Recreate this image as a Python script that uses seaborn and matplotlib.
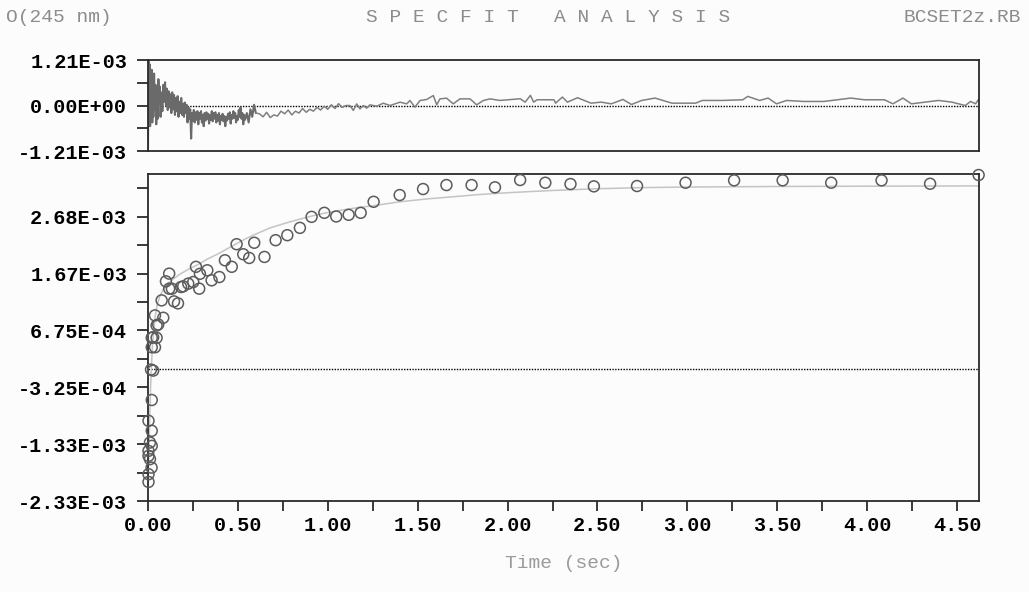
import numpy as np
import matplotlib
matplotlib.use('Agg')
import matplotlib.pyplot as plt
import seaborn as sns

# observed points (time in s, absorbance in units of 1e-3)
obs_time = [0.003, 0.003, 0.003, 0.003, 0.003, 0.011, 0.011, 0.017, 0.020, 0.021,
            0.021, 0.021, 0.021, 0.021, 0.029, 0.029, 0.039, 0.039, 0.048, 0.048,
            0.057, 0.076, 0.085, 0.100, 0.118, 0.118, 0.133, 0.145, 0.167, 0.184,
            0.196, 0.224, 0.252, 0.267, 0.285, 0.289, 0.330, 0.354, 0.397, 0.428,
            0.466, 0.493, 0.530, 0.563, 0.591, 0.648, 0.710, 0.775, 0.845, 0.910,
            0.981, 1.047, 1.116, 1.183, 1.255, 1.40, 1.53, 1.66, 1.80, 1.93,
            2.07, 2.21, 2.35, 2.48, 2.72, 2.99, 3.26, 3.53, 3.80, 4.08,
            4.35, 4.62]
obs_abs = [-1.994, -1.858, -1.535, -1.447, -0.917, -1.593, -1.300, -0.015, -1.742, -1.358,
           -1.093, -0.551, 0.378, 0.545, -0.033, 0.555, 0.378, 0.939, 0.545, 0.762,
           0.780, 1.204, 0.898, 1.539, 1.410, 1.675, 1.410, 1.186, 1.151, 1.439,
           1.451, 1.499, 1.527, 1.795, 1.410, 1.672, 1.734, 1.557, 1.615, 1.910,
           1.795, 2.193, 2.016, 1.951, 2.219, 1.969, 2.264, 2.352, 2.481, 2.675,
           2.746, 2.682, 2.711, 2.746, 2.940, 3.059, 3.165, 3.235, 3.235, 3.195,
           3.324, 3.276, 3.253, 3.212, 3.218, 3.276, 3.318, 3.318, 3.276, 3.318,
           3.258, 3.412]

# fitted curve
fit_time = [0.000, 0.004, 0.008, 0.012, 0.016, 0.020, 0.025, 0.030, 0.040, 0.050,
            0.065, 0.085, 0.11, 0.14, 0.18, 0.23, 0.27, 0.33, 0.40, 0.49,
            0.55, 0.62, 0.68, 0.76, 0.85, 0.95, 1.05, 1.15, 1.25, 1.40,
            1.55, 1.70, 1.85, 2.00, 2.25, 2.50, 2.75, 3.00, 3.50, 4.00, 4.62]
fit_abs = [-2.05, -1.60, -1.10, -0.60, -0.20, 0.10, 0.40, 0.62, 0.92, 1.10,
           1.27, 1.40, 1.50, 1.58, 1.67, 1.76, 1.82, 1.93, 2.04, 2.20,
           2.30, 2.40, 2.48, 2.56, 2.64, 2.72, 2.78, 2.83, 2.87, 2.94,
           2.99, 3.03, 3.07, 3.10, 3.14, 3.17, 3.19, 3.20, 3.21, 3.215, 3.22]

# residuals (units of 1e-3)
res_time = [0.000, 0.003, 0.006, 0.009, 0.012, 0.015, 0.018, 0.021, 0.024, 0.027,
            0.030, 0.034, 0.038, 0.042, 0.046, 0.050, 0.054, 0.058, 0.062, 0.066,
            0.070, 0.075, 0.080, 0.085, 0.090, 0.095, 0.100, 0.105, 0.110, 0.115,
            0.120, 0.125, 0.130, 0.135, 0.140, 0.145, 0.150, 0.155, 0.160, 0.165,
            0.170, 0.175, 0.180, 0.185, 0.190, 0.195, 0.200, 0.205, 0.210, 0.215,
            0.220, 0.225, 0.230, 0.235, 0.240, 0.245, 0.250, 0.255, 0.260, 0.265,
            0.270, 0.275, 0.280, 0.285, 0.290, 0.295, 0.300, 0.305, 0.310, 0.315,
            0.320, 0.325, 0.330, 0.335, 0.340, 0.345, 0.350, 0.355, 0.360, 0.365,
            0.370, 0.375, 0.380, 0.385, 0.390, 0.395, 0.400, 0.405, 0.410, 0.415,
            0.420, 0.425, 0.430, 0.435, 0.440, 0.445, 0.450, 0.455, 0.460, 0.465,
            0.470, 0.475, 0.480, 0.485, 0.490, 0.495, 0.500, 0.505, 0.510, 0.515,
            0.520, 0.525, 0.530, 0.535, 0.540, 0.550, 0.560, 0.570, 0.580, 0.590,
            0.600, 0.62, 0.64, 0.66, 0.68, 0.70, 0.72, 0.74, 0.76, 0.78,
            0.80, 0.82, 0.84, 0.86, 0.88, 0.90, 0.92, 0.94, 0.96, 0.98,
            1.00, 1.02, 1.04, 1.06, 1.08, 1.10, 1.123, 1.142, 1.161, 1.179,
            1.198, 1.216, 1.235, 1.272, 1.309, 1.346, 1.402, 1.439, 1.457, 1.485,
            1.513, 1.550, 1.587, 1.606, 1.624, 1.661, 1.698, 1.735, 1.791, 1.828,
            1.865, 1.902, 1.958, 2.070, 2.098, 2.127, 2.145, 2.164, 2.258, 2.267,
            2.305, 2.333, 2.389, 2.464, 2.521, 2.577, 2.642, 2.689, 2.746, 2.820,
            2.914, 3.046, 3.083, 3.196, 3.308, 3.336, 3.402, 3.449, 3.496, 3.552,
            3.646, 3.759, 3.909, 3.984, 4.096, 4.143, 4.199, 4.246, 4.397, 4.471,
            4.546, 4.575, 4.603, 4.622]
res_val = [-1.15, 1.21, -0.40, 1.10, -0.55, 0.75, -0.20, 0.95, -0.45, 0.60,
           -0.30, 0.85, -0.10, 0.55, -0.50, 0.40, -0.35, 0.70, 0.05, 0.50,
           -0.30, 0.35, -0.15, 0.55, 0.10, 0.62, 0.00, 0.45, -0.12, 0.38,
           -0.05, 0.30, -0.20, 0.35, -0.10, 0.28, -0.25, 0.20, -0.15, 0.25,
           -0.30, 0.10, -0.20, 0.20, -0.25, 0.05, -0.30, 0.08, -0.20, 0.02,
           -0.45, -0.05, -0.35, -0.10, -0.88, -0.20, -0.40, -0.12, -0.45, -0.18,
           -0.38, -0.15, -0.50, -0.20, -0.35, -0.15, -0.45, -0.25, -0.55, -0.20,
           -0.40, -0.18, -0.35, -0.22, -0.48, -0.25, -0.38, -0.15, -0.42, -0.20,
           -0.35, -0.18, -0.45, -0.25, -0.40, -0.20, -0.50, -0.28, -0.38, -0.22,
           -0.42, -0.28, -0.55, -0.30, -0.40, -0.22, -0.35, -0.18, -0.48, -0.25,
           -0.35, -0.15, -0.32, -0.20, -0.45, -0.28, -0.38, -0.12, -0.30, -0.05,
           -0.35, -0.20, -0.50, -0.25, -0.38, -0.20, -0.45, -0.10, -0.30, 0.02,
           -0.20, -0.22, -0.30, -0.18, -0.32, -0.25, -0.28, -0.15, -0.22, -0.12,
           -0.25, -0.15, -0.20, -0.08, -0.18, -0.10, -0.15, -0.05, -0.12, -0.02,
           -0.10, 0.02, -0.08, 0.05, -0.05, 0.00, 0.00, -0.13, 0.044, -0.09,
           0.00, -0.07, 0.018, -0.018, 0.062, 0.00, 0.089, 0.044, 0.133, -0.044,
           0.133, 0.16, 0.266, 0.018, 0.177, 0.195, 0.044, 0.177, 0.177, 0.018,
           0.133, 0.177, 0.135, 0.18, 0.09, 0.27, 0.09, 0.153, 0.153, 0.063,
           0.225, 0.09, 0.207, 0.063, 0.09, 0.045, 0.162, 0.027, 0.135, 0.198,
           0.063, 0.063, 0.135, 0.135, 0.153, 0.243, 0.135, 0.198, 0.045, 0.135,
           0.108, 0.108, 0.198, 0.153, 0.153, 0.045, 0.198, 0.045, 0.135, 0.09,
           0.0, 0.108, 0.045, 0.18]

main_ticks = [-2.33, -1.33, -0.325, 0.675, 1.67, 2.68]
main_labels = ['-2.33E-03', '-1.33E-03', '-3.25E-04', '6.75E-04', '1.67E-03', '2.68E-03']
res_ticks = [-1.21, 0.0, 1.21]
res_labels = ['-1.21E-03', '0.00E+00', '1.21E-03']
x_ticks = [0.0, 0.5, 1.0, 1.5, 2.0, 2.5, 3.0, 3.5, 4.0, 4.5]
x_labels = ['0.00', '0.50', '1.00', '1.50', '2.00', '2.50', '3.00', '3.50', '4.00', '4.50']

sns.set_theme(style='ticks')
plt.rcParams['font.family'] = ['Liberation Mono', 'DejaVu Sans Mono']

bg = '#fcfcfc'
frame = '#2a2a2a'
tick_font = {'family': 'Liberation Mono', 'weight': 'bold', 'size': 14.5}

fig = plt.figure(figsize=(10.29, 5.92), dpi=100, facecolor=bg)
ax_res = fig.add_axes([0.1438, 0.7449, 0.8076, 0.1537])
ax = fig.add_axes([0.1438, 0.1537, 0.8076, 0.5524])

scale = 1e-3
t_max = 4.622

# residual panel: dense early part drawn heavier, like the original trace
res_arr = np.array(res_val) * scale
n_dense = res_time.index(0.600) + 1
sns.lineplot(x=res_time[:n_dense], y=res_arr[:n_dense], ax=ax_res, sort=False,
             estimator=None, color='#6a6a6a', linewidth=1.5)
sns.lineplot(x=res_time[n_dense - 1:], y=res_arr[n_dense - 1:], ax=ax_res, sort=False,
             estimator=None, color='#808080', linewidth=1.1)
ax_res.axhline(0, color='black', linestyle=(0, (1, 1)), linewidth=1, zorder=1)
ax_res.set_xlim(0, t_max)
ax_res.set_ylim(-1.21 * scale, 1.21 * scale)
ax_res.set_yticks(np.array(res_ticks) * scale)
ax_res.set_yticklabels(res_labels, fontdict=tick_font)
ax_res.set_yticks([-0.605 * scale, 0.605 * scale], minor=True)
ax_res.set_xticks([])

# main panel
sns.lineplot(x=fit_time, y=np.array(fit_abs) * scale, ax=ax, sort=False,
             estimator=None, color='#c4c4c4', linewidth=1.1)
sns.scatterplot(x=obs_time, y=np.array(obs_abs) * scale, ax=ax, marker='o', s=62,
                facecolors='none', edgecolor='#5c5c5c', linewidth=1.1,
                clip_on=False, zorder=3)
ax.axhline(0, color='black', linestyle=(0, (1, 1)), linewidth=1, zorder=1)
ax.set_xlim(0, t_max)
ax.set_ylim(-2.33 * scale, 3.43 * scale)
ax.set_yticks(np.array(main_ticks) * scale)
ax.set_yticklabels(main_labels, fontdict=tick_font)
mids = [(a + b) / 2 for a, b in zip(main_ticks[:-1], main_ticks[1:])] + [3.18]
ax.set_yticks(np.array(mids) * scale, minor=True)
ax.set_xticks(x_ticks)
ax.set_xticklabels(x_labels, fontdict=tick_font)
ax.set_xticks([0.25, 0.75, 1.25, 1.75, 2.25, 2.75, 3.25, 3.75, 4.25], minor=True)
ax.set_xlabel('Time (sec)', fontsize=14, color='#9a9a9a', labelpad=14,
              family='Liberation Mono')
ax.set_ylabel('')

for a in (ax, ax_res):
    a.set_facecolor(bg)
    for sp in a.spines.values():
        sp.set_visible(True)
        sp.set_color(frame)
        sp.set_linewidth(1.3)
    a.tick_params(axis='y', which='both', length=8, width=1.3, color=frame,
                  pad=7, labelcolor='black')
    a.tick_params(axis='x', which='both', length=7, width=1.3, color=frame,
                  pad=4, labelcolor='black')

# header texts
fig.text(0.006, 0.97, 'O(245 nm)', fontsize=14, color='#8c8c8c', va='center',
         ha='left', family='Liberation Mono')
fig.text(0.533, 0.97, 'S P E C F I T   A N A L Y S I S', fontsize=14,
         color='#8c8c8c', va='center', ha='center', family='Liberation Mono')
fig.text(0.992, 0.97, 'BCSET2z.RB', fontsize=14, color='#8c8c8c', va='center',
         ha='right', family='Liberation Mono')

fig.savefig('out.png', dpi=100, facecolor=bg)
